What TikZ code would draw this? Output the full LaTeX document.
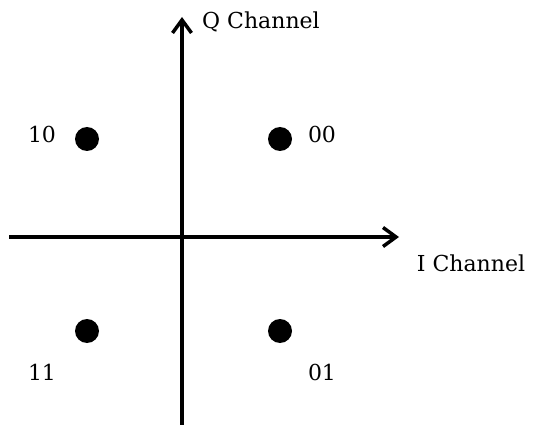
\documentclass[tikz,border=0pt]{standalone}
\usepackage{fontspec}
\setmainfont{DejaVu Serif}
\usetikzlibrary{arrows.meta}
\begin{document}
\begin{tikzpicture}[x=1pt,y=-1pt,
  axis/.style={line width=3.2pt,-{Straight Barb[length=13pt,width=19pt,line width=3.5pt]}},
  dotpt/.style={circle,fill=black,inner sep=0pt,minimum size=24pt},
  lbl/.style={font=\fontsize{22}{24}\selectfont,inner sep=0pt,anchor=center}]
\useasboundingbox (0,0) rectangle (533,425);
\coordinate (xl) at (9,237);
\coordinate (xr) at (399,237);
\coordinate (yb) at (182,425);
\coordinate (yt) at (182,17);
\draw[axis] (xl) -- (xr);
\draw[axis] (yb) -- (yt);
\node[dotpt] (d10) at (87,139) {};
\node[dotpt] (d00) at (280,139) {};
\node[dotpt] (d11) at (87,331) {};
\node[dotpt] (d01) at (280,331) {};
\node[lbl] (l10) at (42,134) {10};
\node[lbl] (l00) at (322,134) {00};
\node[lbl] (l11) at (42,372) {11};
\node[lbl] (l01) at (322,372) {01};
\node[lbl] (q) at (261,22) {Q Channel};
\node[lbl] (i) at (471,263) {I Channel};
\end{tikzpicture}
\end{document}
